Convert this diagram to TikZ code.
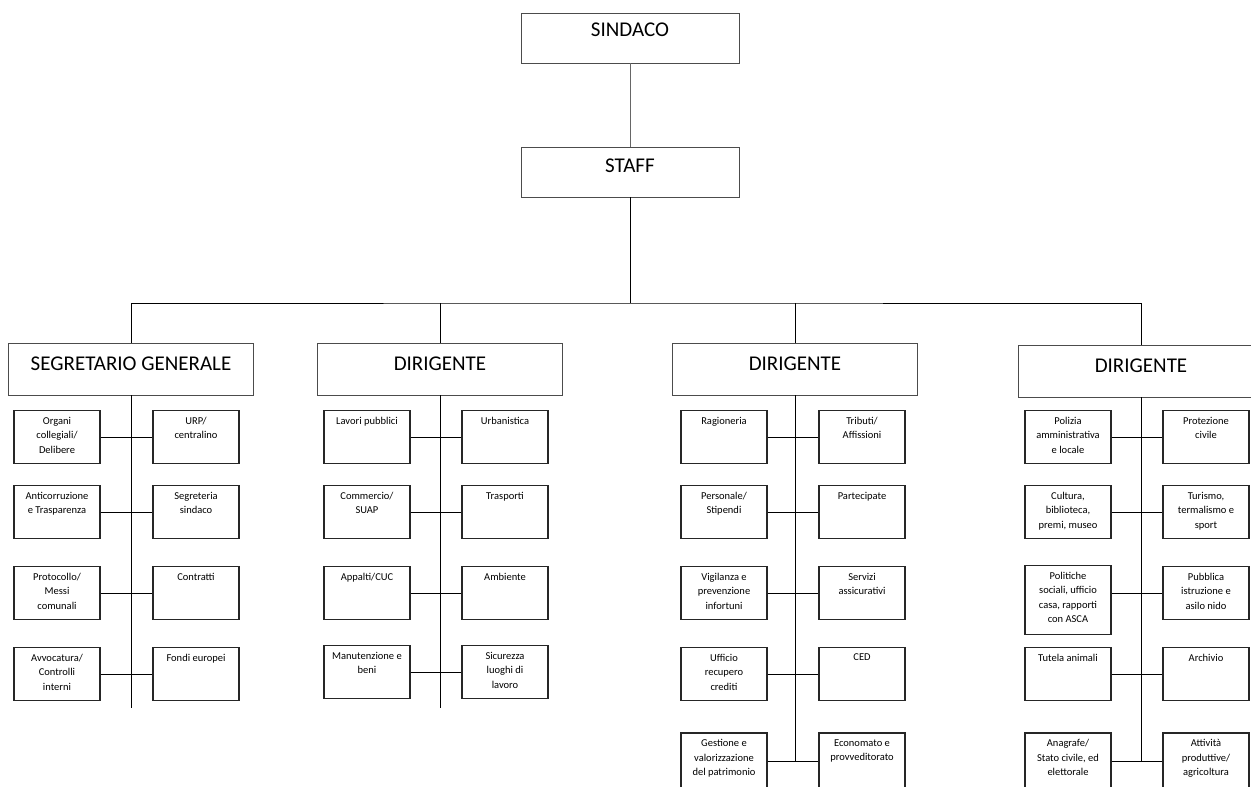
\documentclass[tikz,border=0pt]{standalone}
\usepackage{fontspec}
\setmainfont{Carlito}
\begin{document}
\begin{tikzpicture}[x=1pt,y=-1pt]
        \tikzstyle{head}=[draw=black!70,line width=0.9pt,minimum width=218pt,minimum height=50pt,inner sep=0pt]
        \tikzstyle{chief}=[head,minimum width=245pt,minimum height=52pt]
        \tikzstyle{title}=[anchor=north,inner sep=1pt,font=\fontsize{21}{24}\selectfont]
        \tikzstyle{office}=[draw=black!85,line width=1.1pt,minimum width=86pt,minimum height=53pt,inner sep=0pt]
        \tikzstyle{desc}=[anchor=north,inner sep=1pt,yshift=-6pt,align=center,font=\fontsize{10.5}{14.5}\selectfont]
        \tikzstyle{edge}=[draw,line width=1pt]
        \clip (0,0) rectangle (1251,787);
       \begin{scope}
         % vertice
         \node [head,label={[title,yshift=-9pt]north:SINDACO}] (sindaco) at (630,38) {};
         \node [head,label={[title,yshift=-11pt]north:STAFF}] (staff) at (630,172) {};
         \node [chief,label={[title,yshift=-13pt]north:SEGRETARIO GENERALE}] (segr) at (131,369) {};
         \node [chief,label={[title,yshift=-13pt]north:DIRIGENTE}] (dir1) at (440,369) {};
         \node [chief,label={[title,yshift=-13pt]north:DIRIGENTE}] (dir2) at (795,369) {};
         \node [chief,label={[title,yshift=-13pt]north:DIRIGENTE}] (dir3) at (1141,371) {};
         \coordinate (bus) at (630,303);
         \path[edge,draw=black!60,line width=0.8pt] (sindaco) -- (staff);
         \path[edge] (staff) -- (bus);
         \path[edge] (segr.north) |- (bus) -| (dir3.north);
         \path[edge] (dir1.north) -- (dir1.north |- bus);
         \path[edge] (dir2.north) -- (dir2.north |- bus);
       \end{scope}
       \begin{scope}
         % segretario generale
         \node [office,label={[desc]north:{Organi\\collegiali/\\Delibere}}] (sgl1) at (57,437) {};
         \node [office,label={[desc]north:{Anticorruzione\\e Trasparenza}}] (sgl2) at (57,512) {};
         \node [office,label={[desc]north:{Protocollo/\\Messi\\comunali}}] (sgl3) at (57,593) {};
         \node [office,label={[desc]north:{Avvocatura/\\Controlli\\interni}}] (sgl4) at (57,674) {};
         \node [office,label={[desc]north:{URP/\\centralino}}] (sgr1) at (196,437) {};
         \node [office,label={[desc]north:{Segreteria\\sindaco}}] (sgr2) at (196,512) {};
         \node [office,label={[desc]north:{Contratti}}] (sgr3) at (196,593) {};
         \node [office,label={[desc]north:{Fondi europei}}] (sgr4) at (196,674) {};
         \coordinate (sgend) at (131,708);
         \path[edge] (segr) -- (sgend);
         \path[edge] (sgl1) -- (sgr1);
         \path[edge] (sgl2) -- (sgr2);
         \path[edge] (sgl3) -- (sgr3);
         \path[edge] (sgl4) -- (sgr4);
       \end{scope}
       \begin{scope}
         % primo dirigente
         \node [office,label={[desc]north:{Lavori pubblici}}] (dal1) at (367,437) {};
         \node [office,label={[desc]north:{Commercio/\\SUAP}}] (dal2) at (367,512) {};
         \node [office,label={[desc]north:{Appalti/CUC}}] (dal3) at (367,593) {};
         \node [office,label={[desc]north:{Manutenzione e\\beni}}] (dal4) at (367,672) {};
         \node [office,label={[desc]north:{Urbanistica}}] (dar1) at (505,437) {};
         \node [office,label={[desc]north:{Trasporti}}] (dar2) at (505,512) {};
         \node [office,label={[desc]north:{Ambiente}}] (dar3) at (505,593) {};
         \node [office,label={[desc]north:{Sicurezza\\luoghi di\\lavoro}}] (dar4) at (505,672) {};
         \coordinate (daend) at (440,708);
         \path[edge] (dir1) -- (daend);
         \path[edge] (dal1) -- (dar1);
         \path[edge] (dal2) -- (dar2);
         \path[edge] (dal3) -- (dar3);
         \path[edge] (dal4) -- (dar4);
       \end{scope}
       \begin{scope}
         % secondo dirigente
         \node [office,label={[desc]north:{Ragioneria}}] (dbl1) at (724,437) {};
         \node [office,label={[desc]north:{Personale/\\Stipendi}}] (dbl2) at (724,512) {};
         \node [office,label={[desc]north:{Vigilanza e\\prevenzione\\infortuni}}] (dbl3) at (724,593) {};
         \node [office,label={[desc]north:{Ufficio\\recupero\\crediti}}] (dbl4) at (724,674) {};
         \node [office,minimum height=56pt,label={[desc]north:{Gestione e\\valorizzazione\\del patrimonio}}] (dbl5) at (724,761) {};
         \node [office,label={[desc]north:{Tributi/\\Affissioni}}] (dbr1) at (862,437) {};
         \node [office,label={[desc]north:{Partecipate}}] (dbr2) at (862,512) {};
         \node [office,label={[desc]north:{Servizi\\assicurativi}}] (dbr3) at (862,593) {};
         \node [office,label={[desc]north:{CED}}] (dbr4) at (862,674) {};
         \node [office,minimum height=56pt,label={[desc]north:{Economato e\\provveditorato}}] (dbr5) at (862,761) {};
         \coordinate (dbend) at (795,761);
         \path[edge] (dir2) -- (dbend);
         \path[edge] (dbl1) -- (dbr1);
         \path[edge] (dbl2) -- (dbr2);
         \path[edge] (dbl3) -- (dbr3);
         \path[edge] (dbl4) -- (dbr4);
         \path[edge] (dbl5) -- (dbr5);
       \end{scope}
       \begin{scope}
         % terzo dirigente
         \node [office,label={[desc]north:{Polizia\\amministrativa\\e locale}}] (dcl1) at (1068,437) {};
         \node [office,label={[desc]north:{Cultura,\\biblioteca,\\premi, museo}}] (dcl2) at (1068,512) {};
         \node [office,minimum height=69pt,label={[desc]north:{Politiche\\sociali, ufficio\\casa, rapporti\\con ASCA}}] (dcl3) at (1068,600) {};
         \node [office,label={[desc]north:{Tutela animali}}] (dcl4) at (1068,674) {};
         \node [office,minimum height=56pt,label={[desc]north:{Anagrafe/\\Stato civile, ed\\elettorale}}] (dcl5) at (1068,761) {};
         \node [office,label={[desc]north:{Protezione\\civile}}] (dcr1) at (1206,437) {};
         \node [office,label={[desc]north:{Turismo,\\termalismo e\\sport}}] (dcr2) at (1206,512) {};
         \node [office,label={[desc]north:{Pubblica\\istruzione e\\asilo nido}}] (dcr3) at (1206,593) {};
         \node [office,label={[desc]north:{Archivio}}] (dcr4) at (1206,674) {};
         \node [office,minimum height=56pt,label={[desc]north:{Attività\\produttive/\\agricoltura}}] (dcr5) at (1206,761) {};
         \coordinate (dcend) at (1141,761);
         \path[edge] (dir3) -- (dcend);
         \path[edge] (dcl1) -- (dcr1);
         \path[edge] (dcl2) -- (dcr2);
         \path[edge] (dcl3.east |- dcr3.west) -- (dcr3.west);
         \path[edge] (dcl4) -- (dcr4);
         \path[edge] (dcl5) -- (dcr5);
       \end{scope}
      \end{tikzpicture}
\end{document}
